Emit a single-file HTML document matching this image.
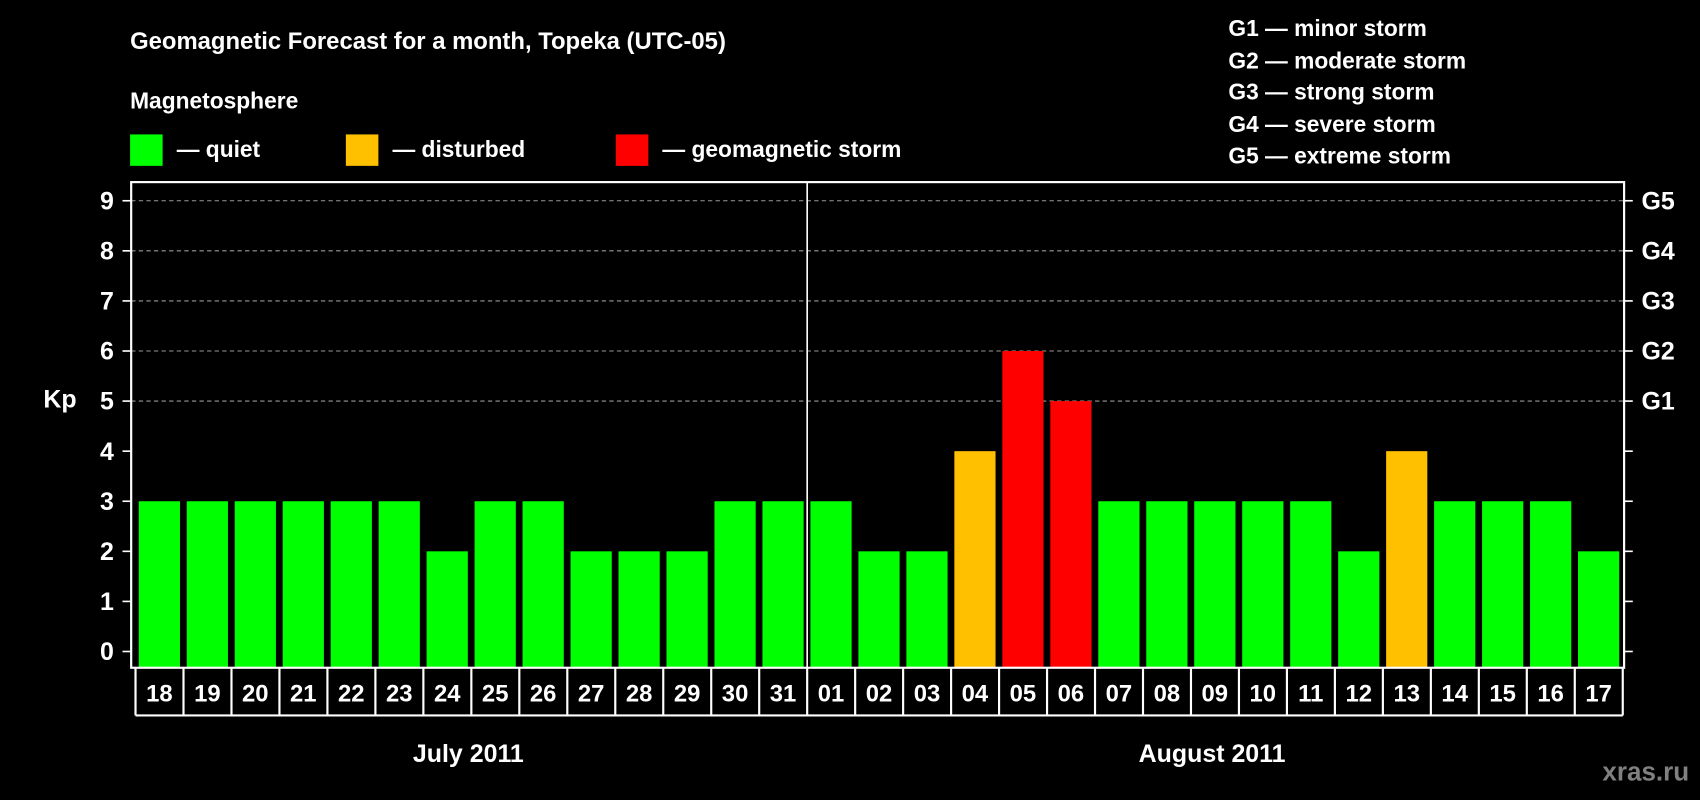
<!DOCTYPE html>
<html><head><meta charset="utf-8"><style>
html,body{margin:0;padding:0;background:#000;width:1700px;height:800px;overflow:hidden}
svg{display:block}
text{font-family:"Liberation Sans",Arial,sans-serif;font-weight:bold;fill:#fff}
</style></head><body>
<svg id="chart" width="1700" height="800" viewBox="0 0 1568 738" preserveAspectRatio="none">
<rect width="1568" height="738" fill="#000"/>
<text x="120" y="45" font-size="22">Geomagnetic Forecast for a month, Topeka (UTC-05)</text>
<text x="120" y="100" font-size="21">Magnetosphere</text>
<g><rect x="120" y="124" width="30" height="29" fill="#00ff00"/><text x="163" y="145" font-size="21">— quiet</text></g>
<g><rect x="319" y="124" width="30" height="29" fill="#ffc000"/><text x="362" y="145" font-size="21">— disturbed</text></g>
<g><rect x="568" y="124" width="30" height="29" fill="#ff0000"/><text x="611" y="145" font-size="21">— geomagnetic storm</text></g>
<g font-size="21">
<text x="1133" y="33" font-size="21">G1 — minor storm</text>
<text x="1133" y="63" font-size="21">G2 — moderate storm</text>
<text x="1133" y="92" font-size="21">G3 — strong storm</text>
<text x="1133" y="122" font-size="21">G4 — severe storm</text>
<text x="1133" y="151" font-size="21">G5 — extreme storm</text>
</g>
<text x="40" y="376" font-size="23">Kp</text>
<g id="plot"></g>
<text x="432" y="703" font-size="23" text-anchor="middle">July 2011</text>
<text x="1118" y="703" font-size="23" text-anchor="middle">August 2011</text>
<text x="1558" y="720" font-size="24" text-anchor="end" style="fill:#808080">xras.ru</text>
</svg>
<script>
const days = ["18","19","20","21","22","23","24","25","26","27","28","29","30","31","01","02","03","04","05","06","07","08","09","10","11","12","13","14","15","16","17"];
const kpValues = [3,3,3,3,3,3,2,3,3,2,2,2,3,3,3,2,2,4,6,5,3,3,3,3,3,2,4,3,3,3,2];
const yTicks = [0,1,2,3,4,5,6,7,8,9];
const gLabels = ["","","","","","G1","G2","G3","G4","G5"];
const NS="http://www.w3.org/2000/svg";
const g=document.getElementById('plot');
const L=121,R=1498,T=168,B=616;
const y=v=>601-v*46.2;
const x=i=>128+i*44.25;
function mk(t,a){const e=document.createElementNS(NS,t);for(const k in a)e.setAttribute(k,a[k]);g.appendChild(e);return e;}
yTicks.forEach((v,i)=>{
  if(v>=5){const gl=mk('line',{x1:L,x2:R,y1:y(v),y2:y(v),stroke:'#999','stroke-dasharray':'4,3','stroke-width':1});
  
  }
  mk('line',{x1:L-8,x2:L,y1:y(v),y2:y(v),stroke:'#fff','stroke-width':1.5});
  mk('line',{x1:R,x2:R+8,y1:y(v),y2:y(v),stroke:'#fff','stroke-width':1.5});
  const t=mk('text',{x:105,y:y(v)+8,'font-size':23,'text-anchor':'end'});t.textContent=v;
  
  
  if(gLabels[i]){const gt=mk('text',{x:1514,y:y(v)+8,'font-size':23});gt.textContent=gLabels[i];
  
  }
});
kpValues.forEach((v,i)=>{
  const c=v>=5?'#ff0000':(v==4?'#ffc000':'#00ff00');
  const b=mk('rect',{x:x(i),y:y(v),width:38,height:y(0)-y(v)+15,fill:c});
  
  
  const t=mk('text',{x:x(i)+19,y:647,'font-size':22,'text-anchor':'middle'});t.textContent=days[i];
  
  
  mk('line',{x1:x(i)-3,x2:x(i)-3,y1:616,y2:660,stroke:'#fff','stroke-width':2});
});
mk('line',{x1:x(days.length)-3,x2:x(days.length)-3,y1:616,y2:660,stroke:'#fff','stroke-width':2});
mk('line',{x1:x(0)-3,x2:x(days.length)-3,y1:660,y2:660,stroke:'#fff','stroke-width':2});
const fr=mk('rect',{x:L,y:T,width:R-L,height:B-T,fill:'none',stroke:'#fff','stroke-width':2});


const dv=mk('line',{x1:x(14)-3,x2:x(14)-3,y1:T,y2:B,stroke:'#fff','stroke-width':1.5});


</script>
</body></html>
